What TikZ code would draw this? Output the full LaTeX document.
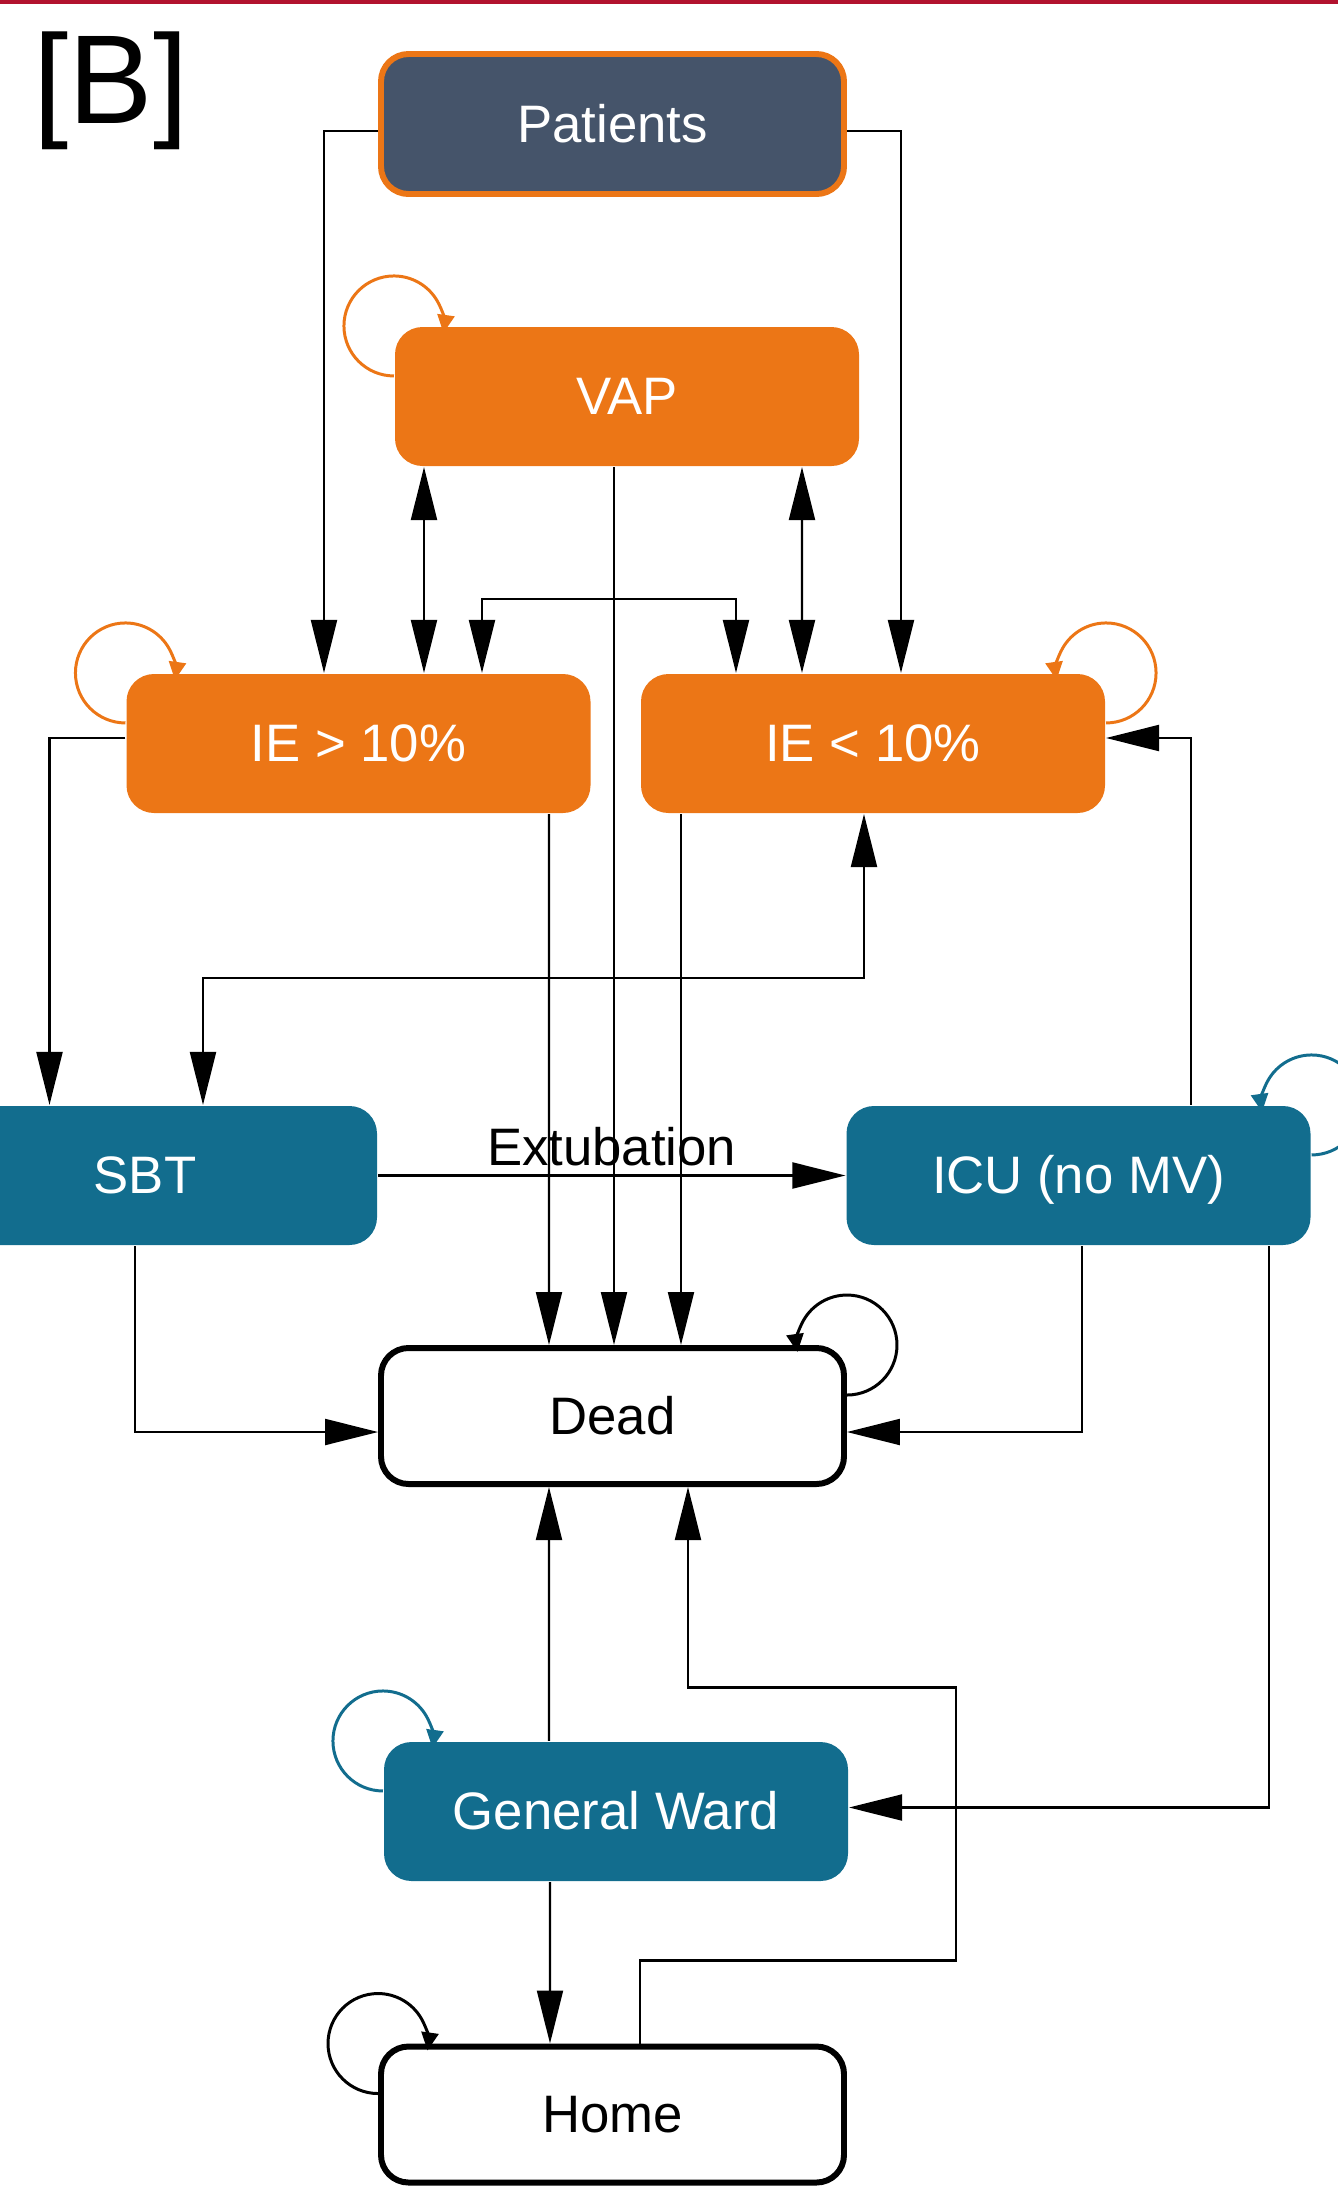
\documentclass[tikz,border=0pt]{standalone}
\usepackage{fontspec}
\setmainfont{Liberation Sans}
\usepackage{tikz}
\usetikzlibrary{shapes,arrows.meta,positioning}

\definecolor{vaporange}{HTML}{EC7616}
\definecolor{careblue}{HTML}{126D8E}
\definecolor{slate}{HTML}{45546A}
\definecolor{topred}{HTML}{B2122E}

\begin{document}
\begin{tikzpicture}[
    line width=1.2pt,
    >={Triangle[width=0.52cm,length=1.06cm]},
    box/.style={rectangle,rounded corners=0.55cm,font=\fontsize{30}{36}\selectfont,text height=21pt,text depth=0pt},
    patient node/.style={box,fill=slate,draw=vaporange,line width=3.4pt,text=white,minimum width=9.26cm,minimum height=2.8cm},
    infection node/.style={box,fill=vaporange,text=white,minimum width=9.28cm,minimum height=2.78cm},
    care node/.style={box,fill=careblue,text=white,minimum width=9.28cm,minimum height=2.78cm},
    outcome node/.style={box,fill=white,draw=black,line width=3.4pt,minimum width=9.26cm,minimum height=2.72cm},
    loop arrow/.style={line width=1.7pt,-{Triangle[width=0.34cm,length=0.36cm]}}
]
\useasboundingbox (0,0) rectangle (26.76,-43.78);

% Panel mark
\draw[topred,line width=0.16cm] (0,0) -- (26.76,0);
\node[font=\fontsize{72}{84}\selectfont] (panel) at (2.22,-1.82) {[B]};

% Input
\node[patient node] (patients) at (12.25,-2.48) {Patients};

% Infection states
\node[infection node, node distance=5.45cm, below of=patients, xshift=0.29cm] (vap) {VAP};
\node[infection node, node distance=6.94cm, below of=vap, xshift=-5.37cm] (iehigh) {IE > 10\%};
\node[infection node, node distance=6.94cm, below of=vap, xshift=4.92cm] (ielow) {IE < 10\%};

% Care states
\node[care node, node distance=8.64cm, below of=iehigh, xshift=-4.27cm] (sbt) {SBT};
\node[care node, node distance=8.64cm, below of=ielow, xshift=4.11cm] (icu) {ICU (no MV)};

% Outcomes
\node[outcome node, node distance=25.84cm, below of=patients] (dead) {Dead};
\node[care node, node distance=7.91cm, below of=dead, xshift=0.07cm] (ward) {General Ward};
\node[outcome node, node distance=6.06cm, below of=ward, xshift=-0.07cm] (home) {Home};

% Arrows
\draw[->] ([yshift=-0.14cm]patients.west) -| ([xshift=-0.69cm]iehigh.north);
\draw[->] ([yshift=-0.14cm]patients.east) -| ([xshift=0.56cm]ielow.north);

\draw[<->] ([xshift=-4.06cm]vap.south) -- ([xshift=1.31cm]iehigh.north);
\draw[<->] ([xshift=3.5cm]vap.south) -- ([xshift=-1.42cm]ielow.north);
\draw[<->] ([xshift=2.47cm]iehigh.north) -- ++(0,1.48cm) -| ([xshift=-2.74cm]ielow.north);

\draw[->] ([xshift=-0.26cm]vap.south) -- ([xshift=0.03cm]dead.north);
\draw[->] ([xshift=3.81cm]iehigh.south) -- ([xshift=-1.27cm]dead.north);
\draw[->] ([xshift=-3.84cm]ielow.south) -- ([xshift=1.37cm]dead.north);

\draw[->] ([yshift=0.11cm]iehigh.west) -| ([xshift=-1.91cm]sbt.north);
\draw[<->] ([xshift=-0.18cm]ielow.south) -- ++(0,-3.28cm) -| ([xshift=1.16cm]sbt.north);

\draw[->] (sbt.east) -- node[above=4pt,inner sep=1pt,font=\fontsize{30}{36}\selectfont] {Extubation} (icu.west);
\draw[->] ([xshift=2.25cm]icu.north) |- ([yshift=0.11cm]ielow.east);
\draw[->] ([xshift=0.07cm]icu.south) |- ([yshift=-0.32cm]dead.east);
\draw[->] ([xshift=3.81cm]icu.south) |- ([yshift=0.08cm]ward.east);
\draw[->] ([xshift=-0.2cm]sbt.south) |- ([yshift=-0.32cm]dead.west);

\draw[->] ([xshift=-1.34cm]ward.north) -- ([xshift=-1.27cm]dead.south);
\draw[->] ([xshift=-1.32cm]ward.south) -- ([xshift=-1.25cm]home.north);
\draw[->] ([xshift=0.55cm]home.north) -- ++(0,1.66cm) -- ++(6.32cm,0) -- ++(0,5.46cm) -| ([xshift=1.51cm]dead.south);

% Self transitions
\draw[loop arrow, vaporange] ([yshift=-1cm]vap.north west) arc[start angle=-90, end angle=-368, radius=1cm];
\draw[loop arrow, vaporange] ([yshift=-1cm]iehigh.north west) arc[start angle=-90, end angle=-368, radius=1cm];
\draw[loop arrow, vaporange] ([yshift=-1cm]ielow.north east) arc[start angle=-90, end angle=188, radius=1cm];
\draw[loop arrow, careblue] ([yshift=-1cm]icu.north east) arc[start angle=-90, end angle=188, radius=1cm];
\draw[loop arrow, black] ([yshift=-1cm]dead.north east) arc[start angle=-90, end angle=188, radius=1cm];
\draw[loop arrow, careblue] ([yshift=-1cm]ward.north west) arc[start angle=-90, end angle=-368, radius=1cm];
\draw[loop arrow, black] ([yshift=-1cm]home.north west) arc[start angle=-90, end angle=-368, radius=1cm];

\end{tikzpicture}
\end{document}
